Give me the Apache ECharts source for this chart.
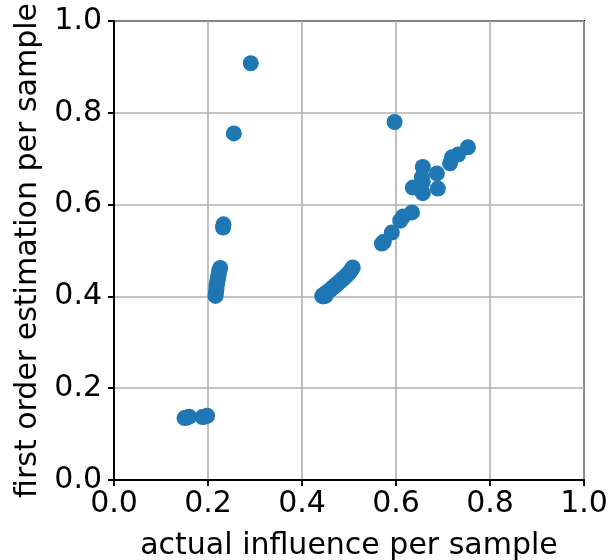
<!DOCTYPE html>
<html>
<head>
<meta charset="utf-8">
<script src="https://cdn.jsdelivr.net/npm/echarts@6/dist/echarts.min.js"></script>
<style>
  html, body { margin: 0; padding: 0; background: #fff; }
  #container { width: 610px; height: 560px; }
</style>
</head>
<body>
<div id="container"></div>
<script>
// actual influence (x) vs first order estimation (y)
var lowX = [0.150, 0.155, 0.160, 0.188, 0.193, 0.198];
var lowY = [0.135, 0.136, 0.138, 0.137, 0.138, 0.140];

var steepX = [0.216, 0.217, 0.218, 0.218, 0.219, 0.220, 0.221, 0.222, 0.223, 0.224, 0.226, 0.232, 0.233];
var steepY = [0.401, 0.408, 0.415, 0.421, 0.427, 0.433, 0.439, 0.444, 0.450, 0.456, 0.462, 0.550, 0.557];

var diagX = [0.443, 0.445, 0.446, 0.448, 0.450, 0.451, 0.454, 0.456, 0.459, 0.462, 0.464, 0.467,
             0.470, 0.472, 0.475, 0.478, 0.481, 0.484, 0.487, 0.490, 0.493, 0.496, 0.499, 0.502, 0.505, 0.508];
var diagY = [0.401, 0.400, 0.403, 0.405, 0.401, 0.407, 0.409, 0.411, 0.413, 0.416, 0.418, 0.420,
             0.423, 0.425, 0.427, 0.430, 0.433, 0.435, 0.438, 0.441, 0.444, 0.447, 0.450, 0.454, 0.458, 0.463];

var upperX = [0.570, 0.574, 0.591, 0.609, 0.615, 0.634, 0.636, 0.657, 0.689, 0.657, 0.655, 0.687,
              0.657, 0.715, 0.719, 0.732, 0.753];
var upperY = [0.515, 0.519, 0.539, 0.565, 0.574, 0.583, 0.637, 0.625, 0.635, 0.649, 0.660, 0.668,
              0.682, 0.690, 0.703, 0.709, 0.725];

var outX = [0.255, 0.291, 0.597];
var outY = [0.755, 0.908, 0.780];

var ticks = ['0.0', '0.2', '0.4', '0.6', '0.8', '1.0'];

function pairs(xs, ys) {
	var arr = [];
	for (var i = 0; i < xs.length; ++i)
		arr.push([xs[i], ys[i]]);
	return arr;
}
var points = [].concat(
	pairs(lowX, lowY),
	pairs(steepX, steepY),
	pairs(diagX, diagY),
	pairs(upperX, upperY),
	pairs(outX, outY)
);

var myChart = echarts.init(document.getElementById('container'));
var font = 'DejaVu Sans';
var axisCommon = {
	type: 'value',
	min: 0,
	max: 1,
	interval: 0.2,
	nameLocation: 'middle',
	nameTextStyle: { fontFamily: font, fontSize: 30, color: '#000' },
	axisLine: { show: true, lineStyle: { color: '#000', width: 2 } },
	axisTick: { show: true, length: 6, lineStyle: { color: '#000', width: 2 } },
	splitLine: { show: true, lineStyle: { color: '#b0b0b0', width: 1.6 } },
	axisLabel: {
		fontFamily: font,
		fontSize: 30,
		color: '#000',
		formatter: function(v) { return ticks[Math.round(v * 5)]; }
	}
};

var option = {
	animation: false,
	grid: {
		left: 114,
		right: 26,
		top: 21,
		bottom: 80,
		outerBoundsMode: 'none',
		show: true,
		borderColor: '#000',
		borderWidth: 2
	},
	xAxis: echarts.util.merge({
		name: 'actual influence per sample',
		nameGap: 51,
		axisLabel: { margin: 9 }
	}, axisCommon),
	yAxis: echarts.util.merge({
		name: 'first order estimation per sample',
		nameGap: 67,
		axisLabel: { margin: 12 }
	}, axisCommon),
	series: [
		{
			type: 'scatter',
			symbolSize: 16,
			itemStyle: { color: '#1f77b4', opacity: 1 },
			data: points
		}
	]
};
myChart.setOption(option);
</script>
</body>
</html>
